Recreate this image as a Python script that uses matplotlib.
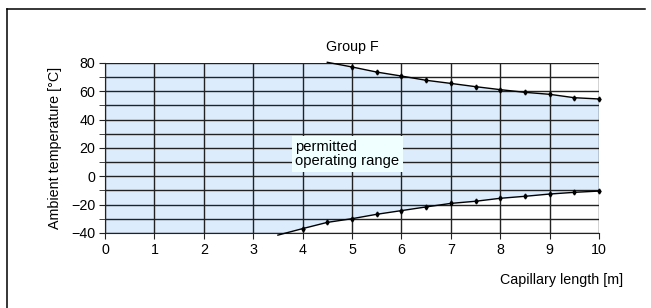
import matplotlib.pyplot as plt
from matplotlib.lines import Line2D
import numpy as np

plt.rcParams['font.family'] = ['Liberation Sans', 'DejaVu Sans']

# Grenzkurven
upper_x = [4.5, 5, 5.5, 6, 6.5, 7, 7.5, 8, 8.5, 9, 9.5, 10]
upper_t = [80.5, 77.2, 73.6, 70.8, 67.8, 65.6, 63.3, 61.2, 59.3, 57.9, 55.5, 54.6]
lower_x = [3.5, 4, 4.5, 5, 5.5, 6, 6.5, 7, 7.5, 8, 8.5, 9, 9.5, 10]
lower_t = [-41.5, -36.9, -32.5, -29.9, -26.8, -24.2, -21.6, -19.1, -17.6, -15.5, -14.1, -12.5, -11.3, -10.4]

x_ticks = list(range(0, 11))
y_ticks = [-40, -20, 0, 20, 40, 60, 80]

fs = 10.3

fig = plt.figure(figsize=(6.51, 3.08), dpi=100)
ax = fig.add_axes([105/651, 1 - 233/308, (599 - 105)/651, (233 - 63)/308])

# Zulässiger Bereich
poly_x = [0] + upper_x + lower_x[::-1] + [0]
poly_y = [80] + upper_t + lower_t[::-1] + [-40]
ax.fill(poly_x, poly_y, color='#dcecfc', zorder=0, lw=0)

ax.set_xlim(0, 10)
ax.set_ylim(-40, 80)
ax.set_xticks(x_ticks)
ax.set_yticks(y_ticks)
ax.set_yticks(np.arange(-30, 80, 20), minor=True)
ax.grid(True, which='both', color='#222222', linewidth=1.0, zorder=1)
ax.set_axisbelow(False)
for s in ['top', 'right']:
    ax.spines[s].set_visible(False)
for s in ['left', 'bottom']:
    ax.spines[s].set_color('#222222')
ax.tick_params(which='both', direction='out', length=4, color='#222222', labelsize=fs, pad=3)

ax.plot(upper_x, upper_t, color='black', lw=1, marker='d', ms=2.5, markevery=list(range(1, len(upper_x))), clip_on=False, zorder=3)
ax.plot(lower_x, lower_t, color='black', lw=1, marker='d', ms=2.5, markevery=list(range(1, len(lower_x))), clip_on=False, zorder=3)

ax.text(3.85, 15.8, 'permitted\noperating range', fontsize=10.6, va='center', ha='left', linespacing=1.05,
        bbox=dict(facecolor='#f0ffff', edgecolor='none', pad=2.5), zorder=4)

ax.set_title('Group F', fontsize=fs, pad=9)
ax.text(-0.101, 0.5, 'Ambient temperature [°C]', fontsize=fs, rotation=90, ha='center', va='center',
        transform=ax.transAxes)
fig.text(623/651, 1 - 280/308, 'Capillary length [m]', fontsize=fs, ha='right', va='center')

# Rahmen
fig.add_artist(Line2D([7/651, 7/651], [0, 1 - 9/308], color='black', lw=1.1, transform=fig.transFigure))
fig.add_artist(Line2D([7/651, 645/651], [1 - 9/308, 1 - 9/308], color='black', lw=1.1, transform=fig.transFigure))

plt.savefig('out.png', dpi=100)
